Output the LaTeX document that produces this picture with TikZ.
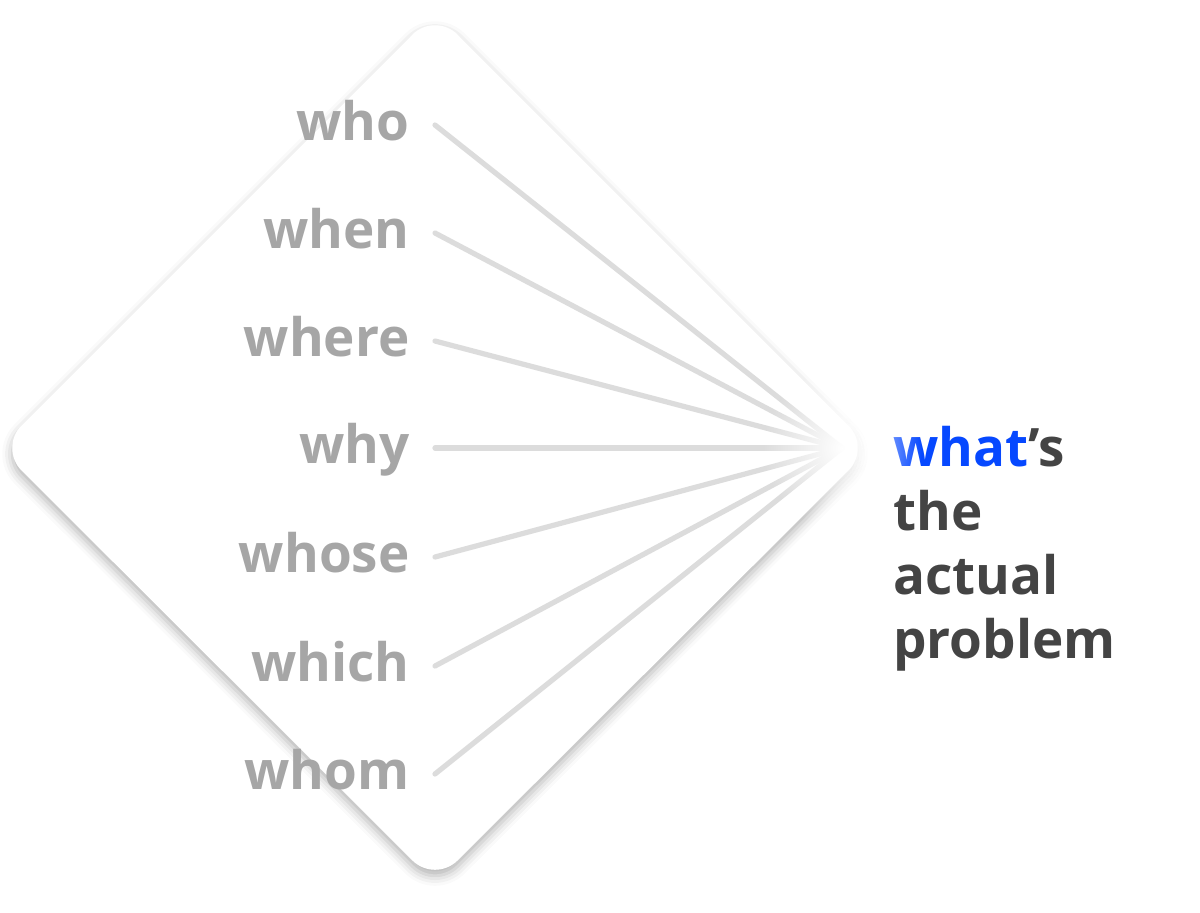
\documentclass[tikz,border=0pt]{standalone}
\usepackage{fontspec}
\setmainfont{Open Sans}
\usepackage{tikz}
\usetikzlibrary{calc,shadows.blur,fadings}
\definecolor{wordgray}{HTML}{A6A6A6}
\definecolor{spokegray}{HTML}{DCDCDC}
\definecolor{darktext}{HTML}{444444}
\definecolor{whatblue}{HTML}{0648FF}
\tikzfading[name=glowfade, inner color=transparent!0, outer color=transparent!100]
\tikzstyle{card}   = [fill=white, rounded corners=16pt,
    blur shadow={shadow xshift=0pt, shadow yshift=-3pt, shadow blur radius=5pt, shadow opacity=30}]
\tikzstyle{qword}  = [anchor=base east, inner sep=0pt, text=wordgray,
    font=\fontsize{26.5}{30}\selectfont\bfseries]
\tikzstyle{answer} = [anchor=north west, inner sep=0pt, align=left, text=darktext,
    font=\fontsize{26.5}{32}\selectfont\bfseries]
\tikzstyle{spoke}  = [draw, line width=2.6pt, line cap=round, color=spokegray]

\begin{document}
\begin{tikzpicture}[x=0.5pt,y=-0.5pt]
    \useasboundingbox (0,0) rectangle (1200,912);
    % the card behind the words
    \path [card] (435,12) -- (871,448) -- (435,883) -- (-1,448) -- cycle;

    % Place nodes
    \node [qword] (who)   at (410,140) {who};
    \node [qword] (when)  at (410,248) {when};
    \node [qword] (where) at (410,356) {where};
    \node [qword] (why)   at (410,463) {why};
    \node [qword] (whose) at (410,572) {whose};
    \node [qword] (which) at (410,681) {which};
    \node [qword] (whom)  at (410,789) {whom};
    \coordinate (hub) at (842,448);

    \node [answer] (what) at (893,426) {\textcolor{whatblue}{what}’s\\the\\actual\\problem};

    % spokes into the hub
    \path [spoke] ($(who.base east)+(25,-15)$)   -- (hub);
    \path [spoke] ($(when.base east)+(25,-15)$)  -- (hub);
    \path [spoke] ($(where.base east)+(25,-15)$) -- (hub);
    \path [spoke] ($(why.base east)+(25,-15)$)   -- (hub);
    \path [spoke] ($(whose.base east)+(25,-15)$) -- (hub);
    \path [spoke] ($(which.base east)+(25,-15)$) -- (hub);
    \path [spoke] ($(whom.base east)+(25,-15)$)  -- (hub);

    % glow where the spokes meet
    \fill [white, path fading=glowfade] (hub) circle (80);
\end{tikzpicture}
\end{document}
